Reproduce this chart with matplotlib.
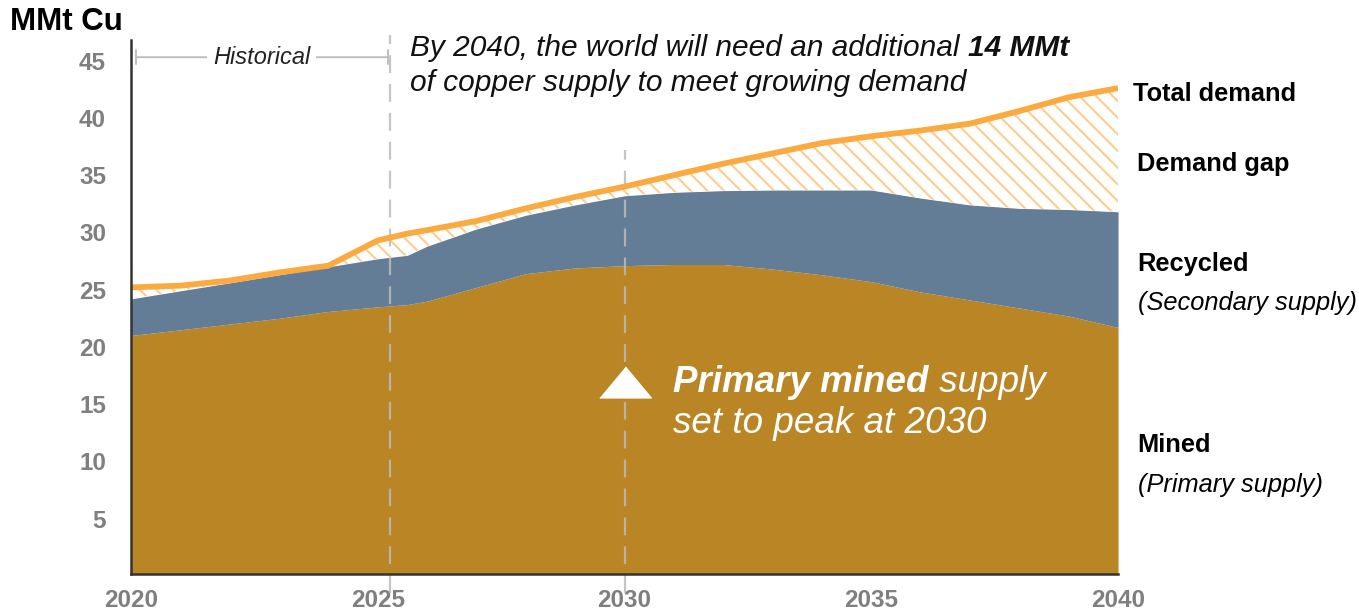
import matplotlib
matplotlib.use("Agg")
import matplotlib.pyplot as plt

plt.rcParams['font.family'] = ['Liberation Sans', 'DejaVu Sans']
plt.rcParams['hatch.linewidth'] = 1.5

# values (MMt Cu)
years = [2020, 2021, 2022, 2023, 2024, 2025, 2025.6, 2026, 2027, 2028, 2029,
         2030, 2031, 2032, 2033, 2034, 2035, 2036, 2037, 2038, 2039, 2040]
mined = [21.0, 21.5, 22.0, 22.5, 23.1, 23.5, 23.7, 24.0, 25.2, 26.4, 26.9,
         27.1, 27.2, 27.2, 26.8, 26.3, 25.7, 24.8, 24.1, 23.4, 22.7, 21.7]
total_supply = [24.2, 24.9, 25.6, 26.3, 27.0, 27.7, 28.0, 28.8, 30.3, 31.5, 32.4,
                33.2, 33.5, 33.65, 33.7, 33.7, 33.7, 33.0, 32.4, 32.1, 32.0, 31.8]
total_demand = [25.2, 25.35, 25.8, 26.5, 27.1, 29.3, 29.9, 30.2, 31.0, 32.1, 33.1,
                34.0, 35.0, 36.0, 36.9, 37.8, 38.4, 38.9, 39.5, 40.6, 41.8, 42.6]
yticks = [5, 10, 15, 20, 25, 30, 35, 40, 45]
xticks = [2020, 2025, 2030, 2035, 2040]

gold = '#B98525'
blue = '#647D96'
orange = '#FBAA40'
hatch_col = '#FDCC90'
grey_txt = '#7F7F7F'
dash_col = '#BBBBBB'

fig = plt.figure(figsize=(13.59, 6.11), dpi=100)
ax = fig.add_axes([0.0964, 0.061, 0.7263, 0.8735])

ax.fill_between(years, 0, mined, color=gold, linewidth=0, zorder=1)
ax.fill_between(years, mined, total_supply, color=blue, linewidth=0, zorder=1)
ax.fill_between(years, total_supply, total_demand,
                where=[d >= s for d, s in zip(total_demand, total_supply)],
                interpolate=True, facecolor='white', edgecolor=hatch_col,
                hatch='\\\\', linewidth=0, zorder=1)
ax.plot(years, total_demand, color=orange, lw=4.2, solid_capstyle='butt', zorder=4)

ax.set_xlim(2020, 2040)
ax.set_ylim(0.2, 46.8)
ax.set_yticks(yticks)
ax.set_xticks(xticks)
ax.tick_params(length=0)
ax.tick_params(axis='y', pad=18)
ax.tick_params(axis='x', pad=11)
for lab in ax.get_xticklabels() + ax.get_yticklabels():
    lab.set_fontsize(17.5)
    lab.set_fontweight('bold')
    lab.set_color(grey_txt)
for s in ['top', 'right']:
    ax.spines[s].set_visible(False)
for s in ['left', 'bottom']:
    ax.spines[s].set_linewidth(1.8)
    ax.spines[s].set_color('#333333')
    ax.spines[s].set_zorder(5)

# dashed markers for 2025 and 2030
ax.plot([2025.25, 2025.25], [-1.5, 47.2], color=dash_col, lw=1.6, dashes=(8, 5),
        alpha=0.85, clip_on=False, zorder=3)
ax.plot([2030, 2030], [-1.5, 37.2], color=dash_col, lw=1.6, dashes=(8, 5),
        alpha=0.85, clip_on=False, zorder=3)

# historical bracket
ax.annotate('', xy=(2020.1, 45.3), xytext=(2025.2, 45.3),
            arrowprops=dict(arrowstyle='|-|', color='#BFBFBF', lw=1.4,
                            mutation_scale=5, shrinkA=0, shrinkB=0))
ax.text(2022.65, 45.3, 'Historical', fontsize=17, style='italic', color='#222222',
        ha='center', va='center', zorder=6,
        bbox=dict(facecolor='white', edgecolor='none', pad=4))

# white triangle marker at 2030
ax.plot([2030], [16.9], marker=[(-1, -0.6), (1, -0.6), (0, 0.6)], markersize=37,
        color='white', zorder=6)

W, H = 1359.0, 611.0
fx = lambda px: px / W
fy = lambda py: 1 - py / H

fig.text(fx(10), fy(22), 'MMt Cu', fontsize=22.5, fontweight='bold', va='center')

t1 = fig.text(fx(410), fy(56), 'By 2040, the world will need an additional ',
              fontsize=21.5, style='italic', va='baseline', color='#111111')
fig.text(fx(410), fy(91), 'of copper supply to meet growing demand',
         fontsize=21.5, style='italic', va='baseline', color='#111111')

t2 = fig.text(fx(673), fy(392), 'Primary mined', fontsize=26.5, style='italic',
              fontweight='bold', va='baseline', color='white')
fig.text(fx(673), fy(433), 'set to peak at 2030', fontsize=26.5, style='italic',
         va='baseline', color='white')

fig.canvas.draw()
bb1 = t1.get_window_extent()
fig.text(bb1.x1 / W, fy(56), '14 MMt', fontsize=21.5, style='italic',
         fontweight='bold', va='baseline', color='#111111')
bb2 = t2.get_window_extent()
fig.text(bb2.x1 / W, fy(392), ' supply', fontsize=26.5, style='italic',
         va='baseline', color='white')

fig.text(fx(1133), fy(94), 'Total demand', fontsize=18.3, fontweight='bold', va='center')
fig.text(fx(1137), fy(164), 'Demand gap', fontsize=18.3, fontweight='bold', va='center')
fig.text(fx(1137), fy(264), 'Recycled', fontsize=18.3, fontweight='bold', va='center')
fig.text(fx(1138), fy(303), '(Secondary supply)', fontsize=18.3, style='italic', va='center')
fig.text(fx(1137), fy(445), 'Mined', fontsize=18.3, fontweight='bold', va='center')
fig.text(fx(1138), fy(485), '(Primary supply)', fontsize=18.3, style='italic', va='center')

fig.savefig('out.png', dpi=100)
